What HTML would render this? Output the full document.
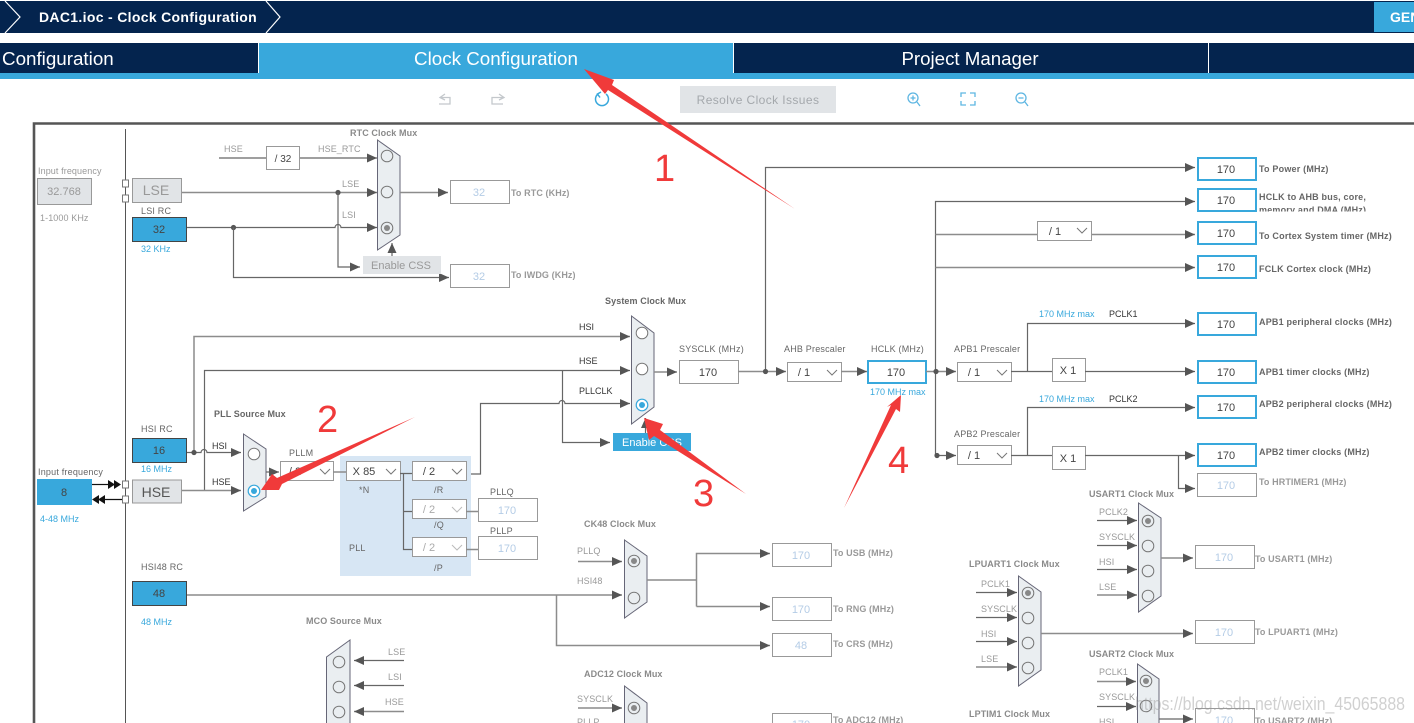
<!DOCTYPE html>
<html><head><meta charset="utf-8"><title>Clock Configuration</title>
<style>
html,body{margin:0;padding:0;background:#fff;width:1414px;height:723px;overflow:hidden}
svg{display:block}
text{font-family:"Liberation Sans",sans-serif;font-size:9px;fill:#777}
.t{font-weight:bold;fill:#8a8a8a;letter-spacing:.1px}
.ts{font-weight:bold;fill:#666;letter-spacing:.1px}
.l{fill:#999;letter-spacing:.1px}
.d{fill:#333}
.g{fill:#666;letter-spacing:.2px}
.b{fill:#38a8dc}
.v{font-size:11px;fill:#444;text-anchor:middle}
.p{font-size:11px;fill:#b4cce6;text-anchor:middle}
.o{font-weight:bold;fill:#666;letter-spacing:.2px}
.og{font-weight:bold;fill:#999;letter-spacing:.1px}
.ln{fill:none;stroke:#666;stroke-width:1.2}
.lg{fill:none;stroke:#8c8c8c;stroke-width:1.5}
.a{marker-end:url(#ar)}
.box{fill:#fff;stroke:#999;stroke-width:1}
.bb{fill:#fff;stroke:#38a8dc;stroke-width:2}
.bl{fill:#38a8dc;stroke:#444;stroke-width:1}
.gr{fill:#e1e4e7;stroke:#999;stroke-width:1}
.mux{fill:#eaeef1;stroke:#667;stroke-width:1}
.c{fill:#eaeef1;stroke:#777;stroke-width:1}
.sel{fill:#fff;stroke:#38a8dc;stroke-width:1.2}
.chev{fill:none;stroke:#777;stroke-width:1}
.chevp{fill:none;stroke:#bbb;stroke-width:1}
.ico{fill:none;stroke:#5eb6e2;stroke-width:1.3}
.red{font-size:38px;fill:#f03a3a}
</style></head>
<body>
<svg xmlns="http://www.w3.org/2000/svg" width="1414" height="723" viewBox="0 0 1414 723">
<defs>
<marker id="ar" markerUnits="userSpaceOnUse" markerWidth="11" markerHeight="10" refX="10" refY="5" orient="auto"><path d="M0 .5 L10 5 L0 9.5 Z" fill="#555"/></marker>
</defs>
<rect width="1414" height="723" fill="#fff"/>

<!-- top bar -->
<rect x="0" y="1" width="1414" height="32" fill="#04244e"/>
<polyline points="5,1 20,17 5,33" fill="none" stroke="#fff" stroke-width="1.2"/>
<polyline points="266,1 280,17 266,33" fill="none" stroke="#fff" stroke-width="1.2"/>
<text x="39" y="22" style="font-size:14px;font-weight:bold;fill:#fff;letter-spacing:.32px">DAC1.ioc - Clock Configuration</text>
<rect x="1374" y="2" width="40" height="30" fill="#38a8dc"/>
<text x="1390" y="22" style="font-size:14px;font-weight:bold;fill:#fff">GEN</text>

<!-- tabs -->
<rect x="0" y="43" width="1414" height="30" fill="#04244e"/>
<rect x="0" y="73" width="1414" height="6" fill="#38a8dc"/>
<rect x="259" y="43" width="474" height="30" fill="#38a8dc"/>
<rect x="258" y="43" width="1" height="30" fill="#fff"/>
<rect x="733" y="43" width="1" height="30" fill="#fff"/>
<rect x="1208" y="43" width="1" height="30" fill="#fff"/>
<text x="2" y="65" style="font-size:18.8px;fill:#fff">Configuration</text>
<text x="496" y="65" text-anchor="middle" style="font-size:18.8px;fill:#fff">Clock Configuration</text>
<text x="970" y="65" text-anchor="middle" style="font-size:18.7px;fill:#fff">Project Manager</text>

<!-- toolbar -->
<path d="M445 94 L440 97.5 L445 100 M440 97.5 H450 V104 H439" fill="none" stroke="#c4c8cc" stroke-width="1.3"/>
<path d="M499 94 L504 97.5 L499 100 M504 97.5 H492 V104 H503" fill="none" stroke="#c4c8cc" stroke-width="1.3"/>
<path d="M598 94 A6.5 6.5 0 1 0 606 94 M601 92 L597.5 94 L600 97.5" fill="none" stroke="#38a8dc" stroke-width="1.5"/>
<rect x="680" y="86" width="156" height="27" fill="#e1e4e7"/>
<text x="758" y="104" text-anchor="middle" style="font-size:12px;fill:#a4a8ac;letter-spacing:.4px">Resolve Clock Issues</text>
<circle cx="913" cy="98" r="5" class="ico"/><path d="M917 102 L920 106 M910.5 98 H915.5 M913 95.5 V100.5" class="ico"/>
<path d="M961 97 V93 H966 M970 93 H975 V97 M975 101 V105 H970 M966 105 H961 V101" class="ico"/>
<circle cx="1021" cy="98" r="5" class="ico"/><path d="M1025 102 L1028 106 M1018.5 98 H1023.5" class="ico"/>

<!-- canvas frame -->
<path d="M34 723 V123.5 H1414" fill="none" stroke="#555" stroke-width="2.6"/>
<line x1="125.5" y1="129" x2="125.5" y2="723" stroke="#555" stroke-width="1"/>

<!-- left: LSE/LSI -->
<text x="38" y="174" class="l">Input frequency</text>
<rect x="37.5" y="178.5" width="54" height="26" class="gr"/><text x="64" y="195" class="v" style="fill:#999">32.768</text>
<text x="40" y="221" class="l">1-1000 KHz</text>
<rect x="122.5" y="180" width="6" height="7" fill="#fff" stroke="#777"/>
<rect x="122.5" y="195" width="6" height="7" fill="#fff" stroke="#777"/>
<rect x="132.5" y="178.5" width="49" height="24" class="gr"/><text x="156" y="195" style="font-size:14px;fill:#999;text-anchor:middle">LSE</text>
<text x="141" y="214" class="g">LSI RC</text>
<rect x="132.5" y="217.5" width="54" height="24" class="bl"/><text x="159" y="233" class="v">32</text>
<text x="141" y="252" class="b">32 KHz</text>

<!-- RTC mux -->
<text x="350" y="136" class="t">RTC Clock Mux</text>
<path d="M219 158 H266" class="ln"/>
<rect x="266.5" y="146.5" width="33" height="23" class="box"/><text x="283" y="162" class="v" style="font-size:10px">/ 32</text>
<path d="M300 158 H377" class="ln a"/>
<text x="224" y="152" class="l">HSE</text><text x="318" y="152" class="l">HSE_RTC</text>
<path d="M182 192.5 H377" class="lg a"/>
<circle cx="338" cy="192.5" r="2.6" fill="#555"/>
<text x="342" y="187" class="l">LSE</text><text x="342" y="218" class="l">LSI</text>
<path d="M187 227.5 H335 A3 3 0 0 1 341 227.5 H377" class="ln a"/>
<circle cx="233.500" cy="227.500" r="2.600" fill="#555"/>
<path d="M338 192.500 V267 H360" class="ln a"/>
<path d="M233.500 227.500 V277.500 H449" class="ln a"/>
<path d="M392 256 V243" class="ln a"/>
<polygon points="377.500,140 400,156 400,235 377.500,250" class="mux"/>
<circle cx="387" cy="156" r="5.800" class="c"/><circle cx="387" cy="192" r="5.800" class="c"/>
<circle cx="387" cy="228" r="5.800" class="c"/><circle cx="387" cy="228" r="3" fill="#888"/>
<rect x="363" y="256" width="78" height="18" fill="#e1e4e7"/><text x="401" y="269" style="font-size:11px;fill:#999;text-anchor:middle">Enable CSS</text>
<path d="M400 192.500 H448" class="lg a"/>
<rect x="450.500" y="180.500" width="59" height="23" class="box"/><text x="479" y="196" class="p">32</text>
<text x="511" y="196" class="og">To RTC (KHz)</text>
<rect x="450.500" y="264.500" width="59" height="23" class="box"/><text x="479" y="280" class="p">32</text>
<text x="511" y="278" class="og">To IWDG (KHz)</text>

<!-- upper right outputs -->
<path d="M765.500 371 V167.500 H1195" class="ln a"/>
<path d="M935.500 455 V201.500 H1195" class="ln a"/>
<path d="M935.500 234.500 H1195" class="lg a"/>
<path d="M935.500 267.500 H1195" class="lg a"/>
<rect x="1037.500" y="221.500" width="54" height="19" class="box"/><text x="1055" y="235" class="v" style="font-size:11px">/ 1</text>
<polyline points="1077,228 1082,233 1087,228" class="chev"/>
<rect x="1198" y="158" width="58" height="22" class="bb"/><text x="1226" y="173" class="v">170</text>
<text x="1259" y="172" class="o">To Power (MHz)</text>
<rect x="1198" y="189" width="58" height="22" class="bb"/><text x="1226" y="204" class="v">170</text>
<text x="1259" y="200" class="o">HCLK to AHB bus, core,</text>
<text x="1259" y="213" class="o">memory and DMA (MHz)</text>
<rect x="1257" y="211.500" width="157" height="8" fill="#fff"/>
<rect x="1198" y="222" width="58" height="22" class="bb"/><text x="1226" y="237" class="v">170</text>
<text x="1259" y="239" class="o">To Cortex System timer (MHz)</text>
<rect x="1198" y="256" width="58" height="22" class="bb"/><text x="1226" y="271" class="v">170</text>
<text x="1259" y="272" class="o">FCLK Cortex clock (MHz)</text>

<!-- system clock mux inputs -->
<text x="605" y="304" class="ts">System Clock Mux</text>
<path d="M194 452 V336.500 H630" class="lg a"/>
<path d="M204.500 490 V370.500 H630" class="ln a"/>
<path d="M467 474 H480.500 V403.500 H559 A3 3 0 0 1 565 403.500 H630" class="ln a"/>
<path d="M562.500 370.500 V442.500 H610" class="ln a"/>
<path d="M645.500 433 V418" class="ln a"/>
<text x="579" y="330" class="d">HSI</text><text x="579" y="364" class="d">HSE</text><text x="579" y="394" class="d">PLLCLK</text>
<polygon points="631.500,316 654,333 654,407 631.500,424" class="mux"/>
<circle cx="642" cy="333" r="5.800" class="c" style="fill:#fff"/><circle cx="642" cy="369" r="5.800" class="c" style="fill:#fff"/>
<circle cx="642" cy="405" r="5.800" class="sel"/><circle cx="642" cy="405" r="3" fill="#38a8dc"/>
<rect x="613" y="433" width="78" height="18" fill="#38a8dc"/><text x="652" y="446" style="font-size:11px;fill:#fff;text-anchor:middle">Enable CSS</text>

<!-- HSI/HSE left -->
<text x="141" y="432" class="g">HSI RC</text>
<rect x="132.500" y="438.500" width="54" height="24" class="bl"/><text x="159" y="454" class="v">16</text>
<text x="141" y="472" class="b">16 MHz</text>
<text x="38" y="475" class="g">Input frequency</text>
<rect x="37" y="479" width="55" height="26" fill="#38a8dc"/><text x="64" y="496" class="v">8</text>
<text x="40" y="522" class="b">4-48 MHz</text>
<path d="M92 484.500 H108" stroke="#111" stroke-width="1.200"/>
<path d="M108 480 L115 484.500 L108 489 Z M114 480 L121 484.500 L114 489 Z" fill="#111"/>
<path d="M105 499.500 H122" stroke="#111" stroke-width="1.200"/>
<path d="M92 499.500 L99 495 V504 Z M98 499.500 L105 495 V504 Z" fill="#111"/>
<rect x="122.500" y="481" width="6" height="7" fill="#fff" stroke="#777"/>
<rect x="122.500" y="496" width="6" height="7" fill="#fff" stroke="#777"/>
<rect x="132.500" y="480" width="49" height="23" class="gr"/><text x="156" y="497" style="font-size:14px;fill:#555;text-anchor:middle">HSE</text>
<path d="M187 452.500 H201 A3 3 0 0 1 207 452.500 H241" class="ln a"/>
<circle cx="194" cy="452.500" r="2.600" fill="#555"/>
<path d="M182 490.500 H241" class="lg a"/>
<text x="212" y="449" class="d">HSI</text><text x="212" y="485" class="d">HSE</text>
<text x="214" y="417" class="ts">PLL  Source Mux</text>
<polygon points="243.500,434 266,449 266,497 243.500,511" class="mux"/>
<circle cx="254" cy="454" r="5.800" class="c" style="fill:#fff"/>
<circle cx="254" cy="491" r="5.800" class="sel"/><circle cx="254" cy="491" r="3" fill="#38a8dc"/>

<!-- PLL -->
<rect x="340" y="456" width="131" height="120" fill="#d7e6f4"/>
<path d="M266 472 H279" class="ln a"/>
<text x="289" y="456" class="g">PLLM</text>
<rect x="280.500" y="461.500" width="53" height="19" class="box"/><text x="295" y="475" class="v">/ 2</text>
<polyline points="320,469 325,474 330,469" class="chev"/>
<path d="M333 472 H346" class="lg"/>
<rect x="346.500" y="461.500" width="54" height="19" class="box"/><text x="364" y="475" class="v">X 85</text>
<polyline points="386,469 391,474 396,469" class="chev"/>
<path d="M400 473.500 H412 M403.500 473.500 V549.500 H412 M403.500 511.500 H412" class="ln"/>
<rect x="412.500" y="461.500" width="54" height="19" class="box"/><text x="429" y="475" class="v">/ 2</text>
<polyline points="452,469 457,474 462,469" class="chev"/>
<rect x="412.500" y="499.500" width="54" height="19" class="box"/><text x="429" y="513" class="p" style="fill:#aaa">/ 2</text>
<polyline points="452,507 457,512 462,507" class="chevp"/>
<rect x="412.500" y="537.500" width="54" height="19" class="box"/><text x="429" y="551" class="p" style="fill:#aaa">/ 2</text>
<polyline points="452,545 457,550 462,545" class="chevp"/>
<text x="359" y="493" class="g">*N</text><text x="434" y="493" class="g">/R</text><text x="434" y="528" class="g">/Q</text><text x="434" y="571" class="g">/P</text><text x="349" y="551" class="g">PLL</text>
<path d="M466 511.500 H478 M466 549.500 H478" class="lg"/>
<text x="490" y="495" class="g">PLLQ</text>
<rect x="478.500" y="498.500" width="59" height="23" class="box"/><text x="507" y="514" class="p">170</text>
<text x="490" y="534" class="g">PLLP</text>
<rect x="478.500" y="536.500" width="59" height="23" class="box"/><text x="507" y="552" class="p">170</text>

<!-- sysclk chain -->
<path d="M654 372 H677" class="lg a"/>
<text x="679" y="352" class="g">SYSCLK (MHz)</text>
<rect x="679.500" y="360.500" width="59" height="23" class="box"/><text x="708" y="376" class="v">170</text>
<path d="M738 371.500 H786" class="lg a"/>
<circle cx="765.500" cy="371.500" r="2.600" fill="#555"/>
<text x="784" y="352" class="g">AHB Prescaler</text>
<rect x="787.500" y="362.500" width="54" height="19" class="box"/><text x="804" y="376" class="v">/ 1</text>
<polyline points="827,370 832,375 837,370" class="chev"/>
<path d="M841 371.500 H867" class="lg a"/>
<text x="871" y="352" class="g">HCLK (MHz)</text>
<rect x="868" y="361" width="58" height="22" class="bb"/><text x="896" y="376" class="v">170</text>
<text x="870" y="395" class="b">170 MHz max</text>
<path d="M926 371.500 H956" class="lg a"/>
<circle cx="936" cy="371.500" r="2.600" fill="#555"/>
<text x="954" y="352" class="g">APB1 Prescaler</text>
<rect x="957.500" y="362.500" width="54" height="19" class="box"/><text x="974" y="376" class="v">/ 1</text>
<polyline points="997,370 1002,375 1007,370" class="chev"/>
<path d="M1011 371.500 H1052" class="ln"/>
<path d="M1027.500 371 V323.500 H1195" class="ln a"/>
<text x="1039" y="317" class="b">170 MHz max</text><text x="1109" y="317" class="d">PCLK1</text>
<rect x="1052.500" y="358.500" width="33" height="23" class="box"/><text x="1068" y="374" class="v">X 1</text>
<path d="M1085 371.500 H1195" class="ln a"/>
<rect x="1198" y="313" width="58" height="22" class="bb"/><text x="1226" y="328" class="v">170</text>
<text x="1259" y="325" class="o">APB1 peripheral clocks (MHz)</text>
<rect x="1198" y="361" width="58" height="22" class="bb"/><text x="1226" y="376" class="v">170</text>
<text x="1259" y="375" class="o">APB1 timer clocks (MHz)</text>
<text x="1039" y="402" class="b">170 MHz max</text><text x="1109" y="402" class="d">PCLK2</text>
<path d="M1027.500 455 V407.500 H1195" class="ln a"/>
<rect x="1198" y="396" width="58" height="22" class="bb"/><text x="1226" y="411" class="v">170</text>
<text x="1259" y="407" class="o">APB2 peripheral clocks (MHz)</text>
<text x="954" y="437" class="g">APB2 Prescaler</text>
<path d="M936 455.500 H956" class="ln a"/>
<circle cx="937" cy="455.500" r="2.600" fill="#555"/>
<rect x="957.500" y="445.500" width="54" height="19" class="box"/><text x="974" y="459" class="v">/ 1</text>
<polyline points="997,453 1002,458 1007,453" class="chev"/>
<path d="M1011 455.500 H1052" class="ln"/>
<rect x="1052.500" y="446.500" width="33" height="23" class="box"/><text x="1068" y="462" class="v">X 1</text>
<path d="M1085 455.500 H1195" class="ln a"/>
<path d="M1178.500 455 V488.500 H1195" class="ln a"/>
<rect x="1198" y="444" width="58" height="22" class="bb"/><text x="1226" y="459" class="v">170</text>
<text x="1259" y="455" class="o">APB2 timer clocks (MHz)</text>
<rect x="1197.500" y="473.500" width="59" height="23" class="box"/><text x="1226" y="489" class="p">170</text>
<text x="1259" y="485" class="og">To HRTIMER1 (MHz)</text>

<!-- CK48 -->
<text x="584" y="527" class="t">CK48 Clock Mux</text>
<text x="577" y="554" class="l">PLLQ</text><text x="577" y="584" class="l">HSI48</text>
<path d="M578 561.500 H622" class="lg a"/>
<text x="141" y="570" class="g">HSI48 RC</text>
<rect x="132.500" y="581.500" width="54" height="24" class="bl"/><text x="159" y="597" class="v">48</text>
<text x="141" y="625" class="b">48 MHz</text>
<path d="M187 595 H622" class="lg a"/>
<path d="M556.500 595 V645.500 H770" class="lg a"/>
<polygon points="624.500,540 647,556 647,602 624.500,618" class="mux"/>
<circle cx="634" cy="561" r="5.800" class="c"/><circle cx="634" cy="561" r="3" fill="#888"/>
<circle cx="634" cy="598" r="5.800" class="c"/>
<path d="M647 580 H696.500" class="lg"/>
<path d="M696.500 606.500 V553.500 H770" class="lg a"/>
<path d="M696.500 606.500 H770" class="lg a"/>
<rect x="772.500" y="543.500" width="59" height="23" class="box"/><text x="801" y="559" class="p">170</text>
<text x="833" y="556" class="og">To USB (MHz)</text>
<rect x="772.500" y="597.500" width="59" height="23" class="box"/><text x="801" y="613" class="p">170</text>
<text x="833" y="612" class="og">To RNG (MHz)</text>
<rect x="772.500" y="633.500" width="59" height="23" class="box"/><text x="801" y="649" class="p">48</text>
<text x="833" y="647" class="og">To CRS (MHz)</text>

<!-- MCO -->
<text x="306" y="624" class="t">MCO Source Mux</text>
<polygon points="350,640 326.500,657 326.500,740 350,740" class="mux"/>
<circle cx="339" cy="662" r="5.800" class="c"/><circle cx="339" cy="687" r="5.800" class="c"/><circle cx="339" cy="712" r="5.800" class="c"/>
<path d="M404 660.500 H354" class="ln a"/><path d="M404 685.500 H354" class="ln a"/><path d="M404 711.500 H354" class="lg a"/>
<text x="388" y="655" class="l">LSE</text><text x="388" y="680" class="l">LSI</text><text x="385" y="705" class="l">HSE</text>

<!-- ADC12 -->
<text x="584" y="677" class="t">ADC12 Clock Mux</text>
<polygon points="624.500,686 647,703 647,740 624.500,740" class="mux"/>
<circle cx="634" cy="708" r="5.800" class="c"/><circle cx="634" cy="708" r="3" fill="#888"/>
<text x="577" y="702" class="l">SYSCLK</text><text x="577" y="725" class="l">PLLP</text>
<path d="M578 708 H622" class="lg a"/>
<rect x="772.500" y="713.500" width="59" height="23" class="box"/><text x="801" y="728" class="p">170</text>
<text x="833" y="723" class="og">To ADC12 (MHz)</text>

<!-- LPUART1 -->
<text x="969" y="567" class="t">LPUART1 Clock Mux</text>
<text x="981" y="587" class="l">PCLK1</text><text x="981" y="612" class="l">SYSCLK</text><text x="981" y="637" class="l">HSI</text><text x="981" y="662" class="l">LSE</text>
<path d="M976 592.500 H1017" class="ln a"/><path d="M976 617.500 H1017" class="ln a"/><path d="M976 641.500 H1017" class="ln a"/><path d="M976 667 H1017" class="lg a"/>
<polygon points="1018.500,576 1041,592 1041,670 1018.500,686" class="mux"/>
<circle cx="1028" cy="593" r="5.800" class="c"/><circle cx="1028" cy="593" r="3" fill="#888"/>
<circle cx="1028" cy="618" r="5.800" class="c"/><circle cx="1028" cy="643" r="5.800" class="c"/><circle cx="1028" cy="668" r="5.800" class="c"/>
<path d="M1041 633.500 H1193" class="lg a"/>
<rect x="1195.500" y="620.500" width="59" height="23" class="box"/><text x="1224" y="636" class="p">170</text>
<text x="1255" y="635" class="og">To LPUART1 (MHz)</text>

<!-- USART1 -->
<text x="1089" y="497" class="t">USART1 Clock Mux</text>
<text x="1099" y="515" class="l">PCLK2</text><text x="1099" y="540" class="l">SYSCLK</text><text x="1099" y="565" class="l">HSI</text><text x="1099" y="590" class="l">LSE</text>
<path d="M1097 520.500 H1137" class="ln a"/><path d="M1097 545.500 H1137" class="ln a"/><path d="M1097 569.500 H1137" class="ln a"/><path d="M1097 595 H1137" class="lg a"/>
<polygon points="1138.500,503 1161,518 1161,596 1138.500,612" class="mux"/>
<circle cx="1148" cy="521" r="5.800" class="c"/><circle cx="1148" cy="521" r="3" fill="#888"/>
<circle cx="1148" cy="546" r="5.800" class="c"/><circle cx="1148" cy="571" r="5.800" class="c"/><circle cx="1148" cy="596" r="5.800" class="c"/>
<path d="M1161 558 H1193" class="lg a"/>
<rect x="1195.500" y="545.500" width="59" height="23" class="box"/><text x="1224" y="561" class="p">170</text>
<text x="1255" y="562" class="og">To USART1 (MHz)</text>

<!-- USART2 -->
<text x="1089" y="657" class="t">USART2 Clock Mux</text>
<text x="1099" y="675" class="l">PCLK1</text><text x="1099" y="700" class="l">SYSCLK</text><text x="1099" y="725" class="l">HSI</text>
<path d="M1097 681.500 H1136" class="lg a"/><path d="M1097 706.500 H1136" class="ln a"/>
<polygon points="1137.500,664 1159,679 1159,740 1137.500,740" class="mux"/>
<circle cx="1146" cy="681" r="5.800" class="c"/><circle cx="1146" cy="681" r="3" fill="#888"/>
<circle cx="1146" cy="706" r="5.800" class="c"/>
<path d="M1159 719 H1193" class="ln a"/>
<rect x="1195.500" y="708.500" width="59" height="23" class="box"/><text x="1224" y="724" class="p">170</text>
<text x="1255" y="724" class="og">To USART2 (MHz)</text>
<text x="969" y="717" class="t">LPTIM1 Clock Mux</text>

<!-- watermark -->
<text x="1135" y="710" textLength="270" lengthAdjust="spacingAndGlyphs" style="font-size:18px;fill:#999;opacity:.45">https://blog.csdn.net/weixin_45065888</text>

<!-- red annotations -->
<polygon points="584,69 614,80 612,85 795,209 608,90 605,94" fill="#f03a3a"/>
<polygon points="261,490 272,474 277,478 415,417 282,484 279,490" fill="#f03a3a"/>
<polygon points="644,418 663,424 660,430 746,494 654,436 649,440" fill="#f03a3a"/>
<polygon points="901,395 900,412 896,409 844,508 891,405 887,407" fill="#f03a3a"/>
<text x="654" y="181" class="red">1</text>
<text x="317" y="432" class="red">2</text>
<text x="693" y="506" class="red">3</text>
<text x="888" y="473" class="red">4</text>
</svg>
</body></html>
